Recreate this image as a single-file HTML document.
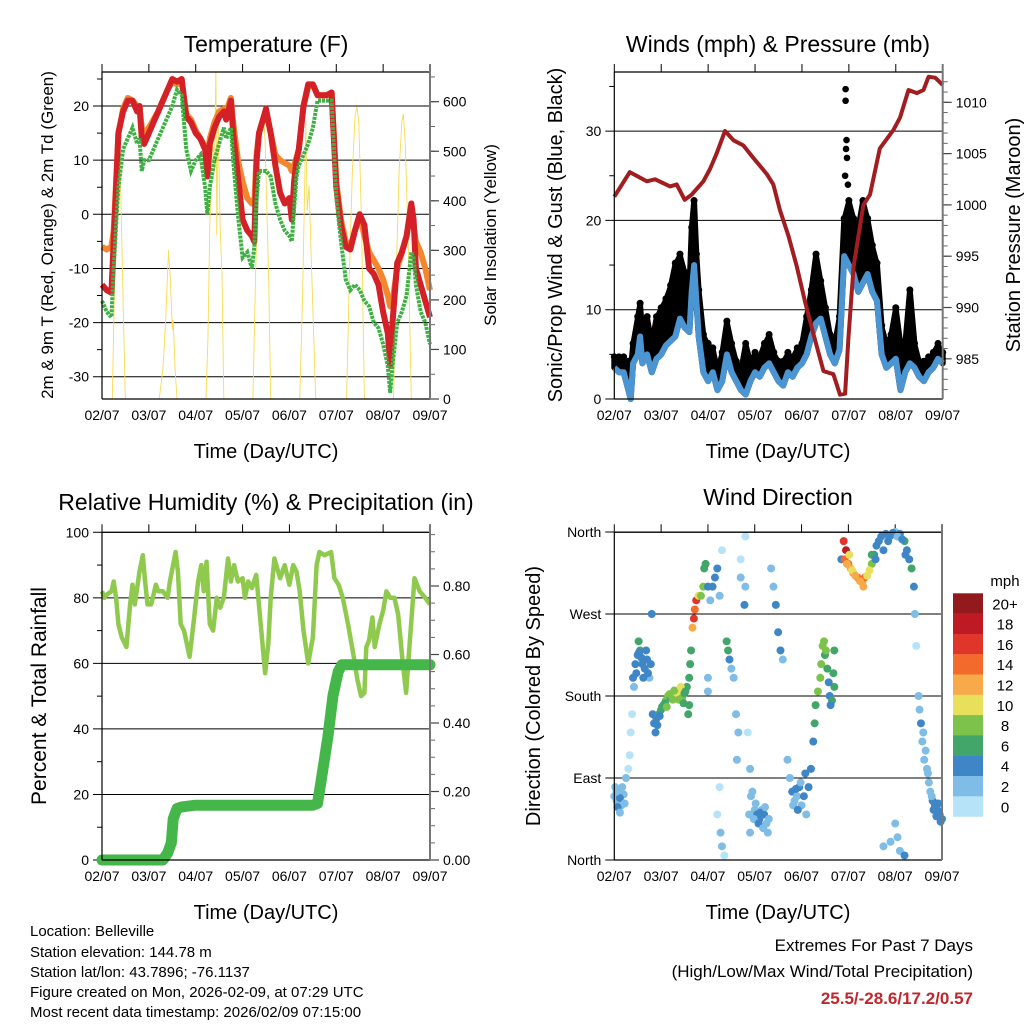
<!DOCTYPE html>
<html><head><meta charset="utf-8"><style>
html,body{margin:0;padding:0;background:#fff;}
svg{display:block;font-family:"Liberation Sans",Arial,sans-serif;}
</style></head><body>
<svg id="fig" width="1024" height="1024" viewBox="0 0 1024 1024" xmlns="http://www.w3.org/2000/svg">
<rect width="1024" height="1024" fill="#fff"/>
<g font-size="23" text-anchor="middle" fill="#000">
<text x="266" y="52">Temperature (F)</text>
<text x="778" y="52">Winds (mph) &amp; Pressure (mb)</text>
<text x="266" y="510">Relative Humidity (%) &amp; Precipitation (in)</text>
<text x="778" y="505">Wind Direction</text>
</g>
<g font-size="20" text-anchor="middle">
<text x="266" y="458">Time (Day/UTC)</text>
<text x="778" y="458">Time (Day/UTC)</text>
<text x="266" y="919">Time (Day/UTC)</text>
<text x="778" y="919">Time (Day/UTC)</text>
<text transform="translate(53,235) rotate(-90)" font-size="17">2m &amp; 9m T (Red, Orange) &amp; 2m Td (Green)</text>
<text transform="translate(496,235) rotate(-90)" font-size="17">Solar Insolation (Yellow)</text>
<text transform="translate(562,235) rotate(-90)">Sonic/Prop Wind &amp; Gust (Blue, Black)</text>
<text transform="translate(1020,235) rotate(-90)">Station Pressure (Maroon)</text>
<text transform="translate(46,696) rotate(-90)" font-size="21">Percent &amp; Total Rainfall</text>
<text transform="translate(540,696) rotate(-90)">Direction (Colored By Speed)</text>
</g>
<g font-size="15">
<text x="30" y="936">Location: Belleville</text>
<text x="30" y="957">Station elevation: 144.78 m</text>
<text x="30" y="977">Station lat/lon: 43.7896; -76.1137</text>
<text x="30" y="997">Figure created on Mon, 2026-02-09, at 07:29 UTC</text>
<text x="30" y="1017">Most recent data timestamp: 2026/02/09 07:15:00</text>
</g>
<g font-size="17" text-anchor="end">
<text x="973" y="951">Extremes For Past 7 Days</text>
<text x="973" y="977">(High/Low/Max Wind/Total Precipitation)</text>
<text x="973" y="1004" fill="#c0272d" font-weight="bold">25.5/-28.6/17.2/0.57</text>
</g>
</svg>
<script>
const NS='http://www.w3.org/2000/svg';
const svg=document.getElementById('fig');
const dayLabels=['02/07','03/07','04/07','05/07','06/07','07/07','08/07','09/07'];
// Temperature data (days since 02/07, deg F)
const tTimes=[0,0.1,0.2,0.25,0.3,0.35,0.45,0.55,0.65,0.75,0.8,0.85,0.9,1.0,1.1,1.2,1.3,1.4,1.5,1.6,1.7,1.8,1.9,2.0,2.1,2.2,2.25,2.3,2.4,2.5,2.6,2.65,2.75,2.8,2.9,3.0,3.1,3.2,3.25,3.3,3.35,3.45,3.5,3.6,3.7,3.8,3.9,4.0,4.05,4.1,4.15,4.2,4.3,4.4,4.5,4.6,4.7,4.8,4.9,5.0,5.1,5.2,5.3,5.4,5.5,5.6,5.7,5.8,5.9,6.0,6.1,6.15,6.2,6.3,6.4,6.5,6.6,6.65,6.7,6.8,6.9,7.0];
const t2m=[-13,-14,-14.5,-5,5,15,19,21,21,19,20,14,13,15,17,19,21,23,25,24.5,25,18,17,15,14,12,7,13,16,18,19,17.5,21,15,7,-1,-3,-4,-5,10,15,18,19.5,15,9,4,2,3,-1,6,10,12,20,24,24,22,22,22,22.5,5,-2,-6,-6.5,-3,0,-2,-10,-11,-13,-18,-22,-28,-20,-9,-7,-4,2,-1,-10,-13,-16,-19];
const t9m=[-6,-6.5,-6,-3,6,15,19.5,21.5,21,20,20,16,15,16,17.5,19,21,23,24.5,24,24.5,18.5,17.5,15.5,14,12.5,8,14,17,19,19.5,19,21.5,17,10,6,3,2,2,11,15,18,19,15,11,10,9.5,9,8,9,10.5,12,20,23.5,24,22,22,22,22.5,6,-1,-5,-6,-3,0,-4,-7,-8.5,-10,-12,-15,-17,-16,-10,-7,-4,1,-2,-5,-7,-10,-14];
const td2m=[-16,-18,-19,-10,-2,5,12,14,16,13,14,8,10,10,12,14,16,18,20,23,22,12,8,10,11,5,0,5,10,13,16,14,16,10,0,-8,-7,-10,-6,3,8,8,8,7,2,-1,-3,-4,-5,1,7,9,11,13,16,21,21,21,21,3,-5,-12,-14,-13,-14,-16,-17,-20,-21,-24,-28,-33,-28,-20,-18,-15,-7,-8,-13,-18,-20,-24];
const sunTimes=[0,0.22,0.27,0.31,0.35,0.38,0.42,0.46,0.5,1.22,1.3,1.36,1.42,1.46,1.5,1.52,1.56,1.6,2.22,2.26,2.3,2.36,2.4,2.43,2.45,2.48,2.52,2.56,2.6,3.22,3.28,3.34,3.4,3.44,3.48,3.52,3.56,3.6,4.22,4.28,4.32,4.35,4.38,4.42,4.46,4.5,4.56,5.22,5.28,5.34,5.4,5.44,5.48,5.54,5.6,6.22,6.28,6.34,6.4,6.43,6.47,6.53,6.6,7.0];
const sunValues=[0,0,250,420,540,500,330,150,0,0,60,160,300,240,140,160,60,0,0,120,350,520,460,660,330,560,350,250,0,0,260,450,560,583,520,380,230,0,0,200,400,560,380,430,300,180,0,0,250,450,570,590,560,350,0,0,260,460,560,575,520,330,0,0];
// Wind data (mph)
const wTimes=[0,0.1,0.2,0.3,0.35,0.4,0.5,0.55,0.6,0.7,0.8,0.9,1.0,1.1,1.2,1.3,1.4,1.5,1.6,1.65,1.7,1.75,1.8,1.9,2.0,2.1,2.2,2.3,2.4,2.5,2.6,2.7,2.8,2.9,3.0,3.1,3.2,3.3,3.4,3.5,3.6,3.7,3.8,3.9,4.0,4.1,4.2,4.3,4.4,4.5,4.6,4.7,4.8,4.9,5.0,5.1,5.2,5.3,5.4,5.5,5.6,5.7,5.8,5.9,6.0,6.1,6.2,6.3,6.4,6.5,6.6,6.7,6.8,6.9,7.0];
const windSpeed=[3.5,3,3,1,0,4,5,7,4,5,3,4.5,5,6,6.5,7,9,8,7.5,12,15,11,7,3,2,3,1,2,5,3,2,1,0.5,2,3,2.5,3.5,4,3,2,1.5,3,2.5,3.5,4,5,7,8.5,9,7,5,4,5.5,16,15,14,12,13,14,12,11,5,3.5,4,4.5,1,3,4,3.5,2.5,2,3,3.5,4.5,4];
const windGust=[4.5,4.5,4.5,4,3,6,9,10.5,7,9,6,9,10,11,12.5,15,16,14,12,19,22,16,12,7,6,5.5,3,5,8.5,6,4,3,6,4,5,4.5,6,7,5,4,4,5,4.5,5.5,6,9,12,16,13,10,7,6,9,20,22,20,19,22,20,17,15,8,6,7,10,6,6,12,6,4,4,4.5,5,6,5];
const gustOutlierTimes=[4.93,4.93,4.95,4.94,4.96,4.92,4.98];
const gustOutlierValues=[34.7,33.4,29,28,27,25,24];
const pTimes=[0,0.33,0.69,0.87,1.19,1.33,1.5,1.65,1.9,2.04,2.18,2.36,2.54,2.75,2.96,3.25,3.39,3.53,3.71,3.89,4.07,4.24,4.46,4.67,4.81,4.92,4.99,5.1,5.31,5.45,5.66,5.95,6.09,6.27,6.45,6.59,6.7,6.84,7.0];
const pressure=[1000.8,1003.2,1002.3,1002.5,1001.8,1002,1000.5,1001,1002.3,1003.5,1005,1007.2,1006.3,1005.8,1004.6,1003,1002,999.5,997,994,990.5,987.5,983.8,983.5,981.5,981.6,987,994,1000,1001,1005.5,1007.3,1008.5,1011.2,1010.9,1011.2,1012.5,1012.4,1011.7];
// Humidity (%) and precip (in)
const rhTimes=[0,0.05,0.1,0.2,0.25,0.3,0.35,0.42,0.52,0.6,0.65,0.7,0.8,0.87,0.92,0.97,1.05,1.15,1.2,1.3,1.4,1.45,1.57,1.62,1.68,1.75,1.87,1.95,2.05,2.12,2.17,2.23,2.3,2.37,2.45,2.52,2.6,2.69,2.75,2.82,2.9,3.0,3.05,3.12,3.2,3.29,3.4,3.48,3.55,3.6,3.68,3.8,3.9,4.0,4.08,4.15,4.22,4.3,4.4,4.5,4.58,4.64,4.75,4.89,4.96,5.05,5.14,5.25,5.36,5.45,5.53,5.6,5.64,5.7,5.77,5.82,5.92,6.0,6.07,6.15,6.24,6.32,6.42,6.49,6.56,6.67,6.78,6.9,7.0];
const rhValues=[82,80,81,82,85,80,72,68,65,78,84,78,88,93,85,78,78,84,82,82,80,85,94,88,72,70,62,72,85,90,82,91,72,70,80,77,80,92,85,90,85,86,80,85,83,87,70,57,66,80,92,86,90,84,90,88,82,70,60,68,90,94,93,94,86,84,80,72,63,55,50,51,65,67,74,65,72,76,82,80,80,75,60,51,65,86,82,80,78];
const prTimes=[0,1.3,1.4,1.48,1.52,1.6,1.7,2.0,4.5,4.6,4.64,4.72,4.82,4.93,5.04,5.12,7.0];
const prValues=[0,0,0.02,0.05,0.12,0.15,0.155,0.16,0.16,0.165,0.2,0.27,0.36,0.48,0.55,0.57,0.57];
// Wind direction (deg) and speed (mph)
const dirTimes=[0,0.05,0.1,0.15,0.2,0.25,0.3,0.33,0.35,0.38,0.4,0.45,0.5,0.52,0.55,0.6,0.65,0.7,0.75,0.8,0.82,0.85,0.88,0.9,0.95,1.0,1.05,1.1,1.15,1.2,1.3,1.35,1.4,1.45,1.5,1.55,1.6,1.6,1.62,1.64,1.67,1.7,1.72,1.75,1.8,1.85,1.9,1.92,1.95,2.0,2.05,2.1,2.15,2.2,2.25,2.3,2.0,2.0,2.25,2.2,2.27,2.3,2.35,2.4,2.43,2.46,2.5,2.55,2.6,2.65,2.62,2.7,2.7,2.8,2.8,2.78,2.85,2.9,2.95,3.0,3.05,3.1,3.15,3.2,3.25,3.3,2.9,3.35,3.4,3.45,3.5,3.55,3.6,3.7,3.75,3.8,3.85,3.9,4.0,3.95,4.1,4.15,4.2,4.25,4.28,4.3,4.35,4.4,4.45,4.5,4.55,4.6,4.65,4.7,4.7,4.85,4.9,4.95,5.0,5.05,5.1,5.2,5.3,5.35,5.4,5.5,5.55,5.6,5.7,5.8,5.9,6.0,6.1,6.2,6.25,6.3,6.35,6.4,6.42,6.45,5.75,5.9,6.0,6.05,6.1,6.2,6.5,6.55,6.6,6.65,6.7,6.75,6.8,6.85,6.9,6.95,7.0];
const dirValues=[70,65,75,60,72,90,100,115,140,160,200,215,225,240,230,215,210,220,200,270,160,150,140,155,160,165,170,175,180,178,182,180,185,178,183,190,170,200,215,230,255,265,275,285,290,290,300,320,325,300,285,300,310,320,290,340,200,185,80,50,30,15,5,240,230,220,210,200,160,140,110,330,310,355,300,280,140,100,75,55,50,45,55,50,40,45,30,320,300,280,250,230,220,110,90,75,65,70,60,80,50,80,100,130,150,170,185,200,235,225,210,180,175,190,230,330,350,340,325,320,315,310,305,310,312,325,335,345,355,358,356,360,358,350,340,330,320,300,270,235,15,20,40,25,10,5,180,150,140,120,95,75,65,60,55,50,45];
const dirSpeeds=[3,3,2,3,2,2,1,1,1,0,4,4,4,6,6,4,4,4,2,4,4,4,4,4,6,6,6,8,8,6,8,10,10,8,6,6,6,6,6,6,12,16,14,16,10,8,8,6,6,4,2,4,4,4,2,0,2,2,0,0,2,2,0,6,6,4,2,2,2,2,2,0,2,0,2,4,0,2,2,2,4,4,2,4,2,2,2,2,2,4,4,4,2,2,2,4,2,2,2,4,2,4,4,4,6,6,8,8,8,6,6,4,6,6,6,4,16,18,14,12,12,14,12,14,10,8,4,4,4,4,4,2,4,6,4,4,6,4,2,0,2,2,2,2,2,4,2,4,2,2,2,2,4,4,4,4,4];
const extraDirTimes=[0.02,0.07,0.12,0.17,0.22,0.12,0.05, 0.42,0.47,0.53,0.58,0.62,0.68,0.72,0.78, 0.92,0.97,1.02,1.08,1.12,1.18,1.25,1.28,1.38,1.42,1.48,1.52,1.58, 4.92,4.97,5.02,5.08,5.15,5.25,5.32,5.45,5.5, 5.58,5.65,5.75,5.85,5.95,6.05,6.15,6.22, 2.88,2.92,2.98,3.02,3.08,3.12,3.18,3.22,3.28, 3.82,3.88,3.92,3.98,4.05,4.08, 6.72,6.78,6.82,6.88,6.92,6.97, 6.52,6.58,6.62,6.68, 4.42,4.48,4.52,4.58,4.62,4.68];
const extraDirValues=[80,58,68,80,62,52,75, 190,205,228,222,200,230,205,215, 148,158,168,172,168,182,176,186,176,190,172,185,160, 330,325,335,318,312,306,300,318,335, 330,350,340,350,359,355,352,335, 50,70,45,62,40,52,35,58,30, 60,78,55,85,70,95, 85,70,55,48,62,42, 165,130,110,100, 215,240,230,195,170,205];
const extraDirSpeeds=[2,4,4,2,2,2,2, 2,4,4,4,4,4,4,4, 4,4,6,6,8,8,8,8,8,10,6,6,6, 14,12,10,10,12,12,12,10,6, 4,4,4,4,4,2,4,4, 2,2,2,2,4,4,2,2,2, 2,4,4,2,4,4, 2,2,4,4,4,4, 2,2,2,2, 8,8,8,4,4,6];
const speedColors=['#b7e3f8','#7fbce6','#3f86c6','#42a56a','#7dc24b','#e8e05a','#f8a94a','#f26a2c','#e0352a','#bd1a24','#921a1c'];
const speedLabels=['0','2','4','6','8','10','12','14','16','18','20+'];

function mk(tag,attrs,name,parent){
  const el=document.createElementNS(NS,tag);
  for(const k in attrs) el.setAttribute(k,attrs[k]);
  
  
  (parent||svg).appendChild(el);
  return el;
}
function txt(x,y,s,anchor,name,size){
  const t=mk('text',{x:x,y:y,'text-anchor':anchor,'font-size':size||14},name);
  t.textContent=s;return t;
}
function path(xs,ys,fx,fy){return xs.map((t,i)=>(i?'L':'M')+fx(t).toFixed(1)+','+fy(ys[i]).toFixed(1)).join('');}

function frame(P,pre){
  for(let d=0;d<=7;d++){
    const x=P.x(d);
    mk('line',{x1:x,x2:x,y1:P.y0-8,y2:P.y0,stroke:'#000','stroke-width':1},pre+'-top-tick');
    txt(x,P.y1+21,dayLabels[d],'middle',pre+'-x-tick-label');
  }
}
function box(P,pre){
  mk('line',{x1:P.x0,x2:P.x1,y1:P.y0,y2:P.y0,stroke:'#000','stroke-width':1.2},pre+'-frame-top');
  mk('line',{x1:P.x0,x2:P.x1,y1:P.y1,y2:P.y1,stroke:'#000','stroke-width':1.2},pre+'-frame-bottom');
  mk('line',{x1:P.x0,x2:P.x0,y1:P.y0,y2:P.y1,stroke:'#000','stroke-width':1.2},pre+'-frame-left');
  mk('line',{x1:P.x1,x2:P.x1,y1:P.y0-8,y2:P.y1,stroke:'#777','stroke-width':2},pre+'-frame-right');
}
function leftAxis(P,fy,vals,labels,minor,pre){
  minor.forEach(v=>mk('line',{x1:P.x0-5,x2:P.x0,y1:fy(v),y2:fy(v),stroke:'#000'},pre+'-minor-tick'));
  vals.forEach((v,i)=>{
    mk('line',{x1:P.x0-9,x2:P.x1,y1:fy(v),y2:fy(v),stroke:'#000','stroke-width':1},pre+'-gridline');
    txt(P.x0-13,fy(v)+5,labels[i],'end',pre+'-y-tick-label');
  });
}
function rightAxis(P,fy,vals,labels,minor,pre){
  minor.forEach(v=>mk('line',{x1:P.x1,x2:P.x1+5,y1:fy(v),y2:fy(v),stroke:'#666'},pre+'-right-minor-tick'));
  vals.forEach((v,i)=>{
    mk('line',{x1:P.x1,x2:P.x1+9,y1:fy(v),y2:fy(v),stroke:'#444','stroke-width':1.2},pre+'-right-tick');
    txt(P.x1+13,fy(v)+5,labels[i],'start',pre+'-right-tick-label');
  });
}
function range(a,b,s){const r=[];for(let v=a;v<=b+1e-9;v+=s)r.push(+v.toFixed(4));return r;}

// Panel 1 temperature
const P1={x0:102,x1:430,y0:72,y1:399,x:d=>102+d*328/7};
const yT=v=>376.7-(v+30)*5.413, yS=v=>399-v*0.4955;
frame(P1,'temp');
leftAxis(P1,yT,[-30,-20,-10,0,10,20],['-30','-20','-10','0','10','20'],range(-25,25,10),'temp');
rightAxis(P1,yS,[0,100,200,300,400,500,600],['0','100','200','300','400','500','600'],range(50,650,50),'solar');
mk('path',{d:path(sunTimes,sunValues,P1.x,yS),fill:'none',stroke:'#f7dc4f','stroke-width':0.9},'solar-line');
mk('path',{d:path(tTimes,t9m,P1.x,yT),fill:'none',stroke:'#f4862d','stroke-width':6,'stroke-linejoin':'round'},'temp-9m-line');
mk('path',{d:path(tTimes,t2m,P1.x,yT),fill:'none',stroke:'#d42027','stroke-width':6,'stroke-linejoin':'round'},'temp-2m-line');
mk('path',{d:path(tTimes,td2m,P1.x,yT),fill:'none',stroke:'#3fb043','stroke-width':4,'stroke-dasharray':'3 1'},'dewpoint-line');
box(P1,'temp');

// Panel 2 winds
const P2={x0:614.3,x1:942.7,y0:72,y1:399,x:d=>614.3+d*328.4/7};
const yW=v=>399-v*8.93, yP=v=>102.3+(1010-v)*10.26;
frame(P2,'wind');
leftAxis(P2,yW,[0,10,20,30],['0','10','20','30'],[5,15,25,35],'wind');
rightAxis(P2,yP,[985,990,995,1000,1005,1010],['985','990','995','1000','1005','1010'],range(982,1012,1),'pressure');
const bandD=path(wTimes,windGust,P2.x,yW)+wTimes.slice().reverse().map((t,i)=>'L'+P2.x(t).toFixed(1)+','+yW(windSpeed[wTimes.length-1-i]).toFixed(1)).join('')+'Z';
mk('path',{d:bandD,fill:'#000',stroke:'#000','stroke-width':6,'stroke-linejoin':'round'},'gust-band');
wTimes.forEach((t,i)=>{
  const c=mk('circle',{cx:P2.x(t),cy:yW(windGust[i])-2,r:3.5,fill:'#000'},'gust-point');
});
gustOutlierTimes.forEach((t,i)=>{
  const c=mk('circle',{cx:P2.x(t),cy:yW(gustOutlierValues[i]),r:3.3,fill:'#000'},'gust-outlier-point');
});
mk('path',{d:path(wTimes,windSpeed,P2.x,yW),fill:'none',stroke:'#4b95d2','stroke-width':6,'stroke-linejoin':'round'},'wind-speed-line');
mk('path',{d:path(pTimes,pressure,P2.x,yP),fill:'none',stroke:'#a11d20','stroke-width':4,'stroke-linejoin':'round'},'pressure-line');
box(P2,'wind');

// Panel 3 humidity
const P3={x0:102,x1:430,y0:532.3,y1:860,x:d=>102+d*328/7};
const yR=v=>860-v*3.277, yIn=v=>860-v*342.5;
frame(P3,'rh');
leftAxis(P3,yR,[0,20,40,60,80,100],['0','20','40','60','80','100'],range(10,90,20),'rh');
rightAxis(P3,yIn,[0,0.2,0.4,0.6,0.8],['0.00','0.20','0.40','0.60','0.80'],range(0.05,0.95,0.05),'precip');
mk('path',{d:path(rhTimes,rhValues,P3.x,yR),fill:'none',stroke:'#8fca4f','stroke-width':4.5,'stroke-linejoin':'round'},'rh-line');
mk('path',{d:path(prTimes,prValues,P3.x,yIn),fill:'none',stroke:'#45b649','stroke-width':11,'stroke-linejoin':'round','stroke-linecap':'round'},'precip-line');
box(P3,'rh');

// Panel 4 direction
const P4={x0:614.3,x1:942,y0:532.3,y1:860,x:d=>614.3+d*327.7/7};
const yD=v=>860-v*0.9111;
frame(P4,'dir');
leftAxis(P4,yD,[0,90,180,270,360],['North','East','South','West','North'],[],'dir');
dirTimes.forEach((t,i)=>{
  const idx=Math.min(10,Math.floor(dirSpeeds[i]/2));
  const c=mk('circle',{cx:P4.x(t),cy:yD(dirValues[i]),r:4,fill:speedColors[idx]},'direction-point');
});
extraDirTimes.forEach((t,i)=>{
  const idx=Math.min(10,Math.floor(extraDirSpeeds[i]/2));
  const c=mk('circle',{cx:P4.x(t),cy:yD(extraDirValues[i]),r:4,fill:speedColors[idx]},'direction-point');
});
box(P4,'dir');
// colorbar
txt(1005,586,'mph','middle','colorbar-title',15);
for(let i=10;i>=0;i--){
  const y=593.3+(10-i)*20.3;
  mk('rect',{x:953,y:y,width:30,height:20.5,fill:speedColors[i]},'colorbar-swatch');
  txt(1005,y+16,speedLabels[i],'middle','colorbar-label',15);
}
</script>
</body></html>
